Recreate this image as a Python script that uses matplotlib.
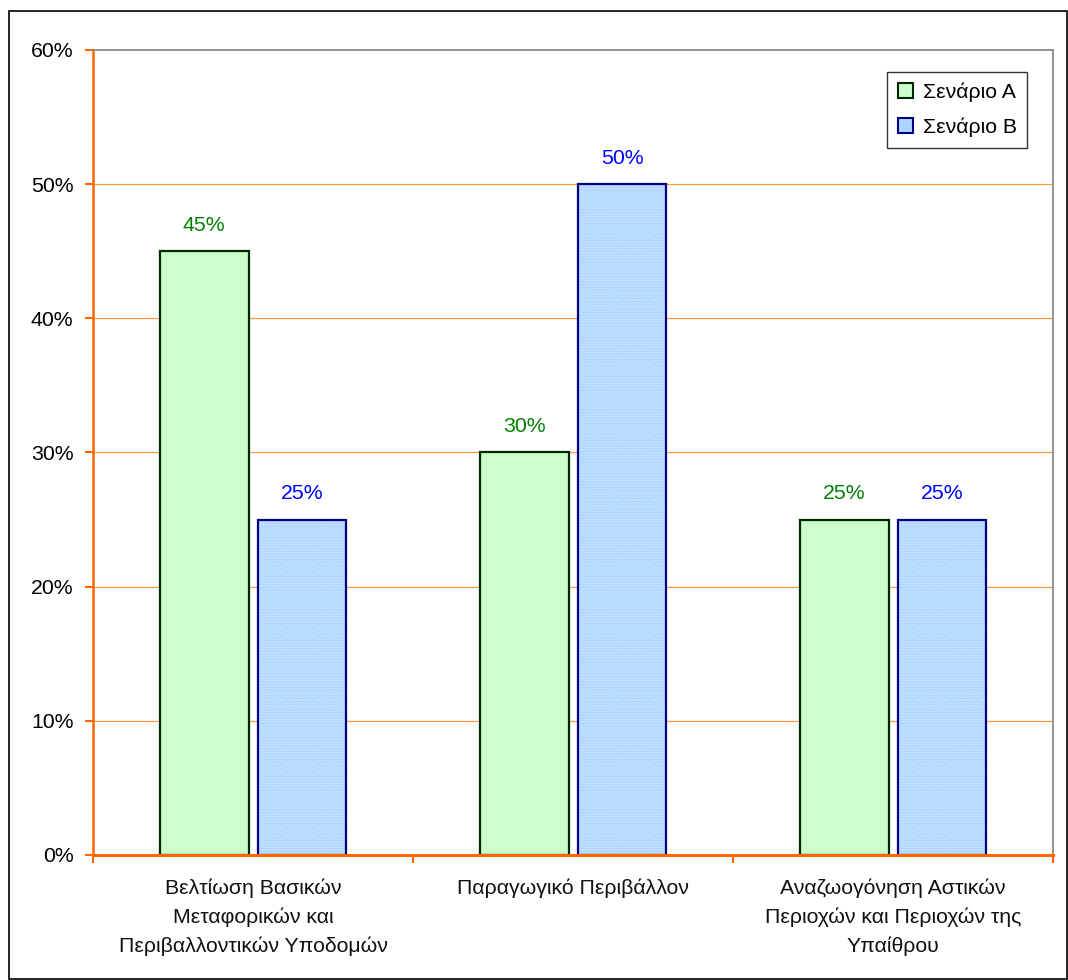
import matplotlib

matplotlib.use("Agg")
import matplotlib.pyplot as plt
import numpy as np
from matplotlib.patches import Patch, Rectangle

plt.rcParams["font.family"] = ["Liberation Sans", "DejaVu Sans"]

categories = [
    "Βελτίωση Βασικών\nΜεταφορικών και\nΠεριβαλλοντικών Υποδομών",
    "Παραγωγικό Περιβάλλον",
    "Αναζωογόνηση Αστικών\nΠεριοχών και Περιοχών της\nΥπαίθρου",
]
series_names = ["Σενάριο Α", "Σενάριο Β"]
scenario_a = [45, 30, 25]
scenario_b = [25, 50, 25]
y_ticks = [0, 10, 20, 30, 40, 50, 60]

GREEN_FILL = "#CCFFCC"
GREEN_EDGE = "#002800"
BLUE_FILL = "#ADD5FF"
BLUE_EDGE = "#000080"
ORANGE = "#FF6600"
GRID = "#FF9940"
FS = 15.3

fig = plt.figure(figsize=(10.68, 9.8), dpi=100, facecolor="white")
fig.patches.append(
    Rectangle((0.008, 0.001), 0.991, 0.988, transform=fig.transFigure,
              fill=False, edgecolor="black", linewidth=1.2)
)

ax = fig.add_axes([0.0871, 0.1276, 0.8989, 0.8214])
x = np.arange(len(categories))
width = 0.278
offset = 0.153

ax.bar(x - offset, scenario_a, width, color=GREEN_FILL, edgecolor=GREEN_EDGE,
       linewidth=1.6, zorder=3)
# dotted texture on the blue bars, then the navy outline on top
ax.bar(x + offset, scenario_b, width, color=BLUE_FILL, edgecolor="#D0E8FF",
       hatch="......", linewidth=0, zorder=3)
ax.bar(x + offset, scenario_b, width, fill=False, edgecolor=BLUE_EDGE,
       linewidth=1.6, zorder=4)

for xi, v in zip(x, scenario_a):
    ax.text(xi - offset, v + 1.2, f"{v}%", ha="center", va="bottom",
            color="#008000", fontsize=FS)
for xi, v in zip(x, scenario_b):
    ax.text(xi + offset, v + 1.2, f"{v}%", ha="center", va="bottom",
            color="#0000FF", fontsize=FS)

ax.set_xlim(-0.5, len(categories) - 0.5)
ax.set_ylim(0, 60)
ax.set_yticks(y_ticks)
ax.set_yticklabels([f"{t}%" for t in y_ticks], fontsize=FS)
for t in y_ticks[1:-1]:
    ax.axhline(t, color=GRID, linewidth=0.9, zorder=1)

ax.set_xticks(np.arange(len(categories) + 1) - 0.5)
ax.set_xticklabels([])
ax.set_xticks(x, minor=True)
ax.set_xticklabels(categories, minor=True, fontsize=FS, linespacing=1.6,
                   color="#111111")
ax.tick_params(axis="x", which="minor", length=0, pad=17)
ax.tick_params(axis="x", which="major", length=6, width=1.5, color=ORANGE)
ax.tick_params(axis="y", length=6, width=1.5, color=ORANGE, pad=8)

ax.spines["left"].set_color(ORANGE)
ax.spines["left"].set_linewidth(1.8)
ax.spines["bottom"].set_color(ORANGE)
ax.spines["bottom"].set_linewidth(2.2)
ax.spines["bottom"].set_zorder(5)
ax.spines["top"].set_color("#808080")
ax.spines["right"].set_color("#808080")
ax.spines["top"].set_linewidth(1.2)
ax.spines["right"].set_linewidth(1.2)

handles = [
    Patch(facecolor=GREEN_FILL, edgecolor=GREEN_EDGE, linewidth=1.5),
    Patch(facecolor=BLUE_FILL, edgecolor=BLUE_EDGE, linewidth=1.5),
]
leg = ax.legend(handles, series_names, loc="upper right",
                bbox_to_anchor=(0.973, 0.973), borderaxespad=0, fontsize=FS,
                frameon=True, fancybox=False, edgecolor="black",
                handlelength=0.7, handleheight=0.7, handletextpad=0.45,
                labelspacing=0.75, borderpad=0.5)
leg.get_frame().set_linewidth(1.0)

fig.savefig("out.png", dpi=100, facecolor="white")
